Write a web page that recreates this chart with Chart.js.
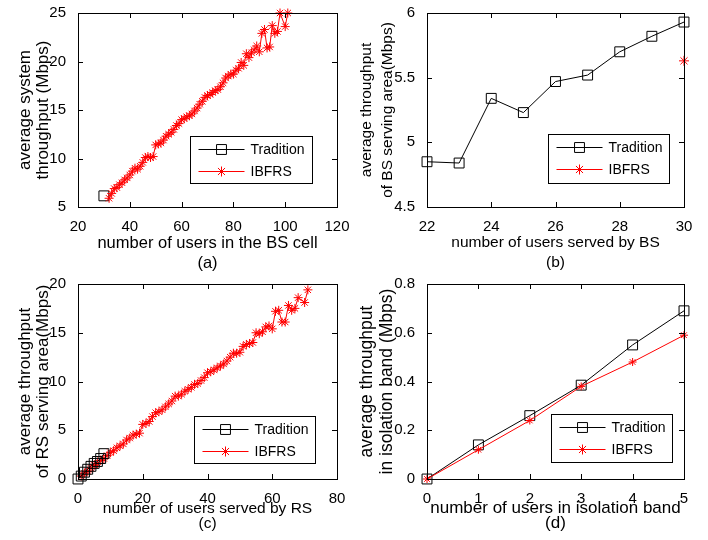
<!DOCTYPE html>
<html>
<head>
<meta charset="utf-8">
<script src="https://cdn.jsdelivr.net/npm/chart.js@4.4.1/dist/chart.umd.min.js"></script>
<style>
  body { margin: 0; background: #fff; width: 708px; height: 540px; position: relative; overflow: hidden; }
  .box { position: absolute; }
</style>
</head>
<body>
<div class="box" style="left:10px;top:0px;width:347px;height:275px"><canvas id="chartA"></canvas></div>
<div class="box" style="left:352px;top:0px;width:352px;height:275px"><canvas id="chartB"></canvas></div>
<div class="box" style="left:10px;top:270px;width:347px;height:263px"><canvas id="chartC"></canvas></div>
<div class="box" style="left:352px;top:270px;width:352px;height:263px"><canvas id="chartD"></canvas></div>
<script>
// (a) users in BS cell
const aTradX = [30];
const aTradY = [6.15];
const aIbfrsX = [32,33,34,35,36,37,38,39,40,41,42,43,44,45,46,47,48,49,50,51,52,53,54,55,56,57,58,59,60,61,
  62,63,64,65,66,67,68,69,70,71,72,73,74,75,76,77,78,79,80,81,82,83,84,85,86,87,88,89,90,91,92,93,94,95,96,97,98,100,101];
const aIbfrsY = [5.9,6.4,6.9,7.0,7.3,7.5,7.8,8.0,8.3,8.7,9.0,8.9,9.2,9.6,10.1,10.2,10.1,10.2,11.4,11.5,11.6,11.9,12.3,12.5,12.7,13.0,13.4,13.6,14.0,14.1,
  14.3,14.4,14.6,14.9,15.2,15.6,15.9,16.3,16.5,16.6,16.8,17.0,17.1,17.4,17.8,18.3,18.5,18.7,18.7,19.1,19.3,19.9,19.6,20.8,20.4,20.9,21.2,21.6,21.0,22.9,23.3,21.4,21.5,23.7,22.9,23.1,25.0,23.6,25.0];

// (b) users served by BS
const bTradX = [22,23,24,25,26,27,28,29,30];
const bTradY = [4.85,4.84,5.34,5.23,5.47,5.52,5.70,5.82,5.93];
const bIbfrsX = [30];
const bIbfrsY = [5.63];

// (c) users served by RS
const cTradX = [0,1,2,3,4,5,6,7,8];
const cTradY = [0,0.3,0.7,1.0,1.3,1.6,1.8,2.1,2.6];
const cIbfrsX = [1,2,3,4,5,6,7,8,9,10,11,12,13,14,15,16,17,18,19,20,21,22,23,24,25,26,27,28,29,30,
  31,32,33,34,35,36,37,38,39,40,41,42,43,44,45,46,47,48,49,50,51,52,53,54,55,56,57,58,59,60,61,62,63,64,65,66,67,68,70,71];
const cIbfrsY = [0.3,0.6,0.8,1.1,1.4,1.6,1.9,2.1,2.4,2.7,2.9,3.2,3.4,3.6,4.0,4.2,4.5,4.6,4.7,5.6,5.7,5.9,6.4,6.8,6.9,7.1,7.4,7.7,8.0,8.5,
  8.5,8.7,9.0,9.2,9.4,9.7,9.8,10.1,10.4,10.9,11.0,11.2,11.4,11.6,11.8,12.1,12.5,12.9,12.9,13.0,13.6,13.8,13.9,14.0,15.0,14.9,15.1,15.6,15.7,15.4,17.2,17.3,16.1,16.1,17.8,17.3,17.5,18.6,18.1,19.4];

// (d) users in isolation band
const dX = [0,1,2,3,4,5];
const dTradY = [0,0.14,0.26,0.385,0.55,0.69];
const dIbfrsY = [0,0.12,0.24,0.38,0.48,0.59];

const FONT = '"Liberation Sans", Arial, sans-serif';
Chart.defaults.font.family = FONT;
Chart.defaults.color = '#000';

const pts = (xs, ys) => xs.map((x, i) => ({ x: x, y: ys[i] }));

function tradSet(xs, ys) {
  return { label: 'Tradition', data: pts(xs, ys), borderColor: '#000', borderWidth: 1,
    pointStyle: 'rect', pointRadius: 7, pointBorderColor: '#000', pointBackgroundColor: 'rgba(0,0,0,0)',
    pointBorderWidth: 1, clip: false };
}
function ibfrsSet(xs, ys, r) {
  return { label: 'IBFRS', data: pts(xs, ys), borderColor: '#ff0000', borderWidth: 1,
    pointStyle: 'star', pointRadius: r, pointBorderColor: '#ff0000', pointBackgroundColor: '#ff0000',
    pointBorderWidth: 1, clip: false };
}

function drawMarker(ctx, style, x, y, r) {
  ctx.beginPath();
  if (style === 'rect') {
    const s = r * Math.SQRT1_2;
    ctx.rect(x - s, y - s, 2 * s, 2 * s);
  } else {
    ctx.moveTo(x, y - r); ctx.lineTo(x, y + r);
    ctx.moveTo(x - r, y); ctx.lineTo(x + r, y);
    const d = r * Math.SQRT1_2;
    ctx.moveTo(x - d, y - d); ctx.lineTo(x + d, y + d);
    ctx.moveTo(x - d, y + d); ctx.lineTo(x + d, y - d);
  }
  ctx.stroke();
}

// box, inward ticks and in-plot legend, drawn the matlab way
const matlabBox = {
  id: 'matlabBox',
  afterDraw(chart, args, opts) {
    const { ctx, chartArea: a } = chart;
    const sx = chart.scales.x, sy = chart.scales.y;
    ctx.save();
    ctx.strokeStyle = '#000';
    ctx.lineWidth = 1;
    ctx.strokeRect(Math.round(a.left) + 0.5, Math.round(a.top) + 0.5, Math.round(a.width), Math.round(a.height));
    ctx.beginPath();
    sx.ticks.forEach(t => {
      const px = Math.round(sx.getPixelForValue(t.value)) + 0.5;
      ctx.moveTo(px, a.bottom); ctx.lineTo(px, a.bottom - 5);
      ctx.moveTo(px, a.top); ctx.lineTo(px, a.top + 5);
    });
    sy.ticks.forEach(t => {
      const py = Math.round(sy.getPixelForValue(t.value)) + 0.5;
      ctx.moveTo(a.left, py); ctx.lineTo(a.left + 5, py);
      ctx.moveTo(a.right, py); ctx.lineTo(a.right - 5, py);
    });
    ctx.stroke();

    // legend
    const w = opts.w, h = opts.h;
    const bx = Math.round(a.right - opts.right - w) + 0.5;
    const by = Math.round(a.bottom - opts.bottom - h) + 0.5;
    ctx.fillStyle = '#fff';
    ctx.fillRect(bx, by, w, h);
    ctx.strokeRect(bx, by, w, h);
    ctx.font = '14px ' + FONT;
    ctx.textBaseline = 'middle';
    const order = chart.data.datasets.slice().sort((p, q) => (p.label === 'Tradition' ? -1 : 1));
    order.forEach((ds, i) => {
      const ry = by + 13 + i * 22;
      ctx.strokeStyle = ds.borderColor;
      ctx.beginPath();
      ctx.moveTo(bx + 8, ry); ctx.lineTo(bx + 54, ry);
      ctx.stroke();
      drawMarker(ctx, ds.pointStyle, bx + 31, ry, ds.pointStyle === 'rect' ? 7 : 5);
      ctx.fillStyle = '#000';
      ctx.fillText(ds.label, bx + 60, ry + 1);
    });
    ctx.restore();
  }
};

const tickText = v => String(+v.toFixed(2));

function makeChart(id, s) {
  new Chart(document.getElementById(id), {
    type: 'line',
    data: { datasets: s.datasets },
    plugins: [matlabBox],
    options: {
      animation: false,
      responsive: true,
      maintainAspectRatio: false,
      layout: { padding: { top: s.padTop, right: 20, left: 0, bottom: 0 } },
      plugins: { legend: { display: false }, tooltip: { enabled: false }, matlabBox: s.legend },
      scales: {
        x: {
          type: 'linear', min: s.xMin, max: s.xMax,
          grid: { display: false }, border: { display: false },
          ticks: { stepSize: s.xStep, font: { size: 15, lineHeight: 1 }, color: '#000', padding: 4, maxRotation: 0, callback: tickText },
          title: { display: true, text: s.xTitle, color: '#000',
            font: { size: s.xFont, lineHeight: s.xLine / s.xFont }, padding: { top: 0, bottom: 2 } },
          afterFit(sc) { sc.height = s.xH; }
        },
        y: {
          type: 'linear', min: s.yMin, max: s.yMax,
          grid: { display: false }, border: { display: false },
          ticks: { stepSize: s.yStep, font: { size: 15 }, color: '#000', padding: 4, callback: tickText },
          title: { display: true, text: s.yTitle, color: '#000',
            font: { size: s.yFont, lineHeight: s.yLine / s.yFont }, padding: { top: s.yPad, bottom: 0 } },
          afterFit(sc) { sc.width = s.yW; }
        }
      }
    }
  });
}

makeChart('chartA', {
  datasets: [ibfrsSet(aIbfrsX, aIbfrsY, 4.5), tradSet(aTradX, aTradY)],
  xMin: 20, xMax: 120, xStep: 20, yMin: 5, yMax: 25, yStep: 5,
  xTitle: ['number of users in the BS cell', '(a)'], xFont: 16.5, xLine: 20,
  yTitle: ['average system', 'throughput (Mbps)'], yFont: 17, yLine: 18, yPad: 6,
  padTop: 13, yW: 68, xH: 68,
  legend: { w: 122, h: 47, right: 25, bottom: 24 }
});
makeChart('chartB', {
  datasets: [ibfrsSet(bIbfrsX, bIbfrsY, 5), tradSet(bTradX, bTradY)],
  xMin: 22, xMax: 30, xStep: 2, yMin: 4.5, yMax: 6, yStep: 0.5,
  xTitle: ['number of users served by BS', '(b)'], xFont: 15.5, xLine: 20,
  yTitle: ['average throughput', 'of BS serving area(Mbps)'], yFont: 15.5, yLine: 21, yPad: 4,
  padTop: 13, yW: 75, xH: 68,
  legend: { w: 121, h: 49, right: 15, bottom: 24 }
});
makeChart('chartC', {
  datasets: [tradSet(cTradX, cTradY), ibfrsSet(cIbfrsX, cIbfrsY, 4.5)],
  xMin: 0, xMax: 80, xStep: 20, yMin: 0, yMax: 20, yStep: 5,
  xTitle: ['number of users served by RS', '(c)'], xFont: 15.5, xLine: 15,
  yTitle: ['average throughput', 'of RS serving area(Mbps)'], yFont: 17, yLine: 18, yPad: 6,
  padTop: 14, yW: 68, xH: 54,
  legend: { w: 121, h: 47, right: 22, bottom: 16 }
});
makeChart('chartD', {
  datasets: [ibfrsSet(dX, dIbfrsY, 4), tradSet(dX, dTradY)],
  xMin: 0, xMax: 5, xStep: 1, yMin: 0, yMax: 0.8, yStep: 0.2,
  xTitle: ['number of users in isolation band', '(d)'], xFont: 17, xLine: 15,
  yTitle: ['average throughput', 'in isolation band (Mbps)'], yFont: 17.5, yLine: 20, yPad: 5,
  padTop: 14, yW: 75, xH: 54,
  legend: { w: 121, h: 48, right: 12, bottom: 17 }
});
</script>
</body>
</html>
